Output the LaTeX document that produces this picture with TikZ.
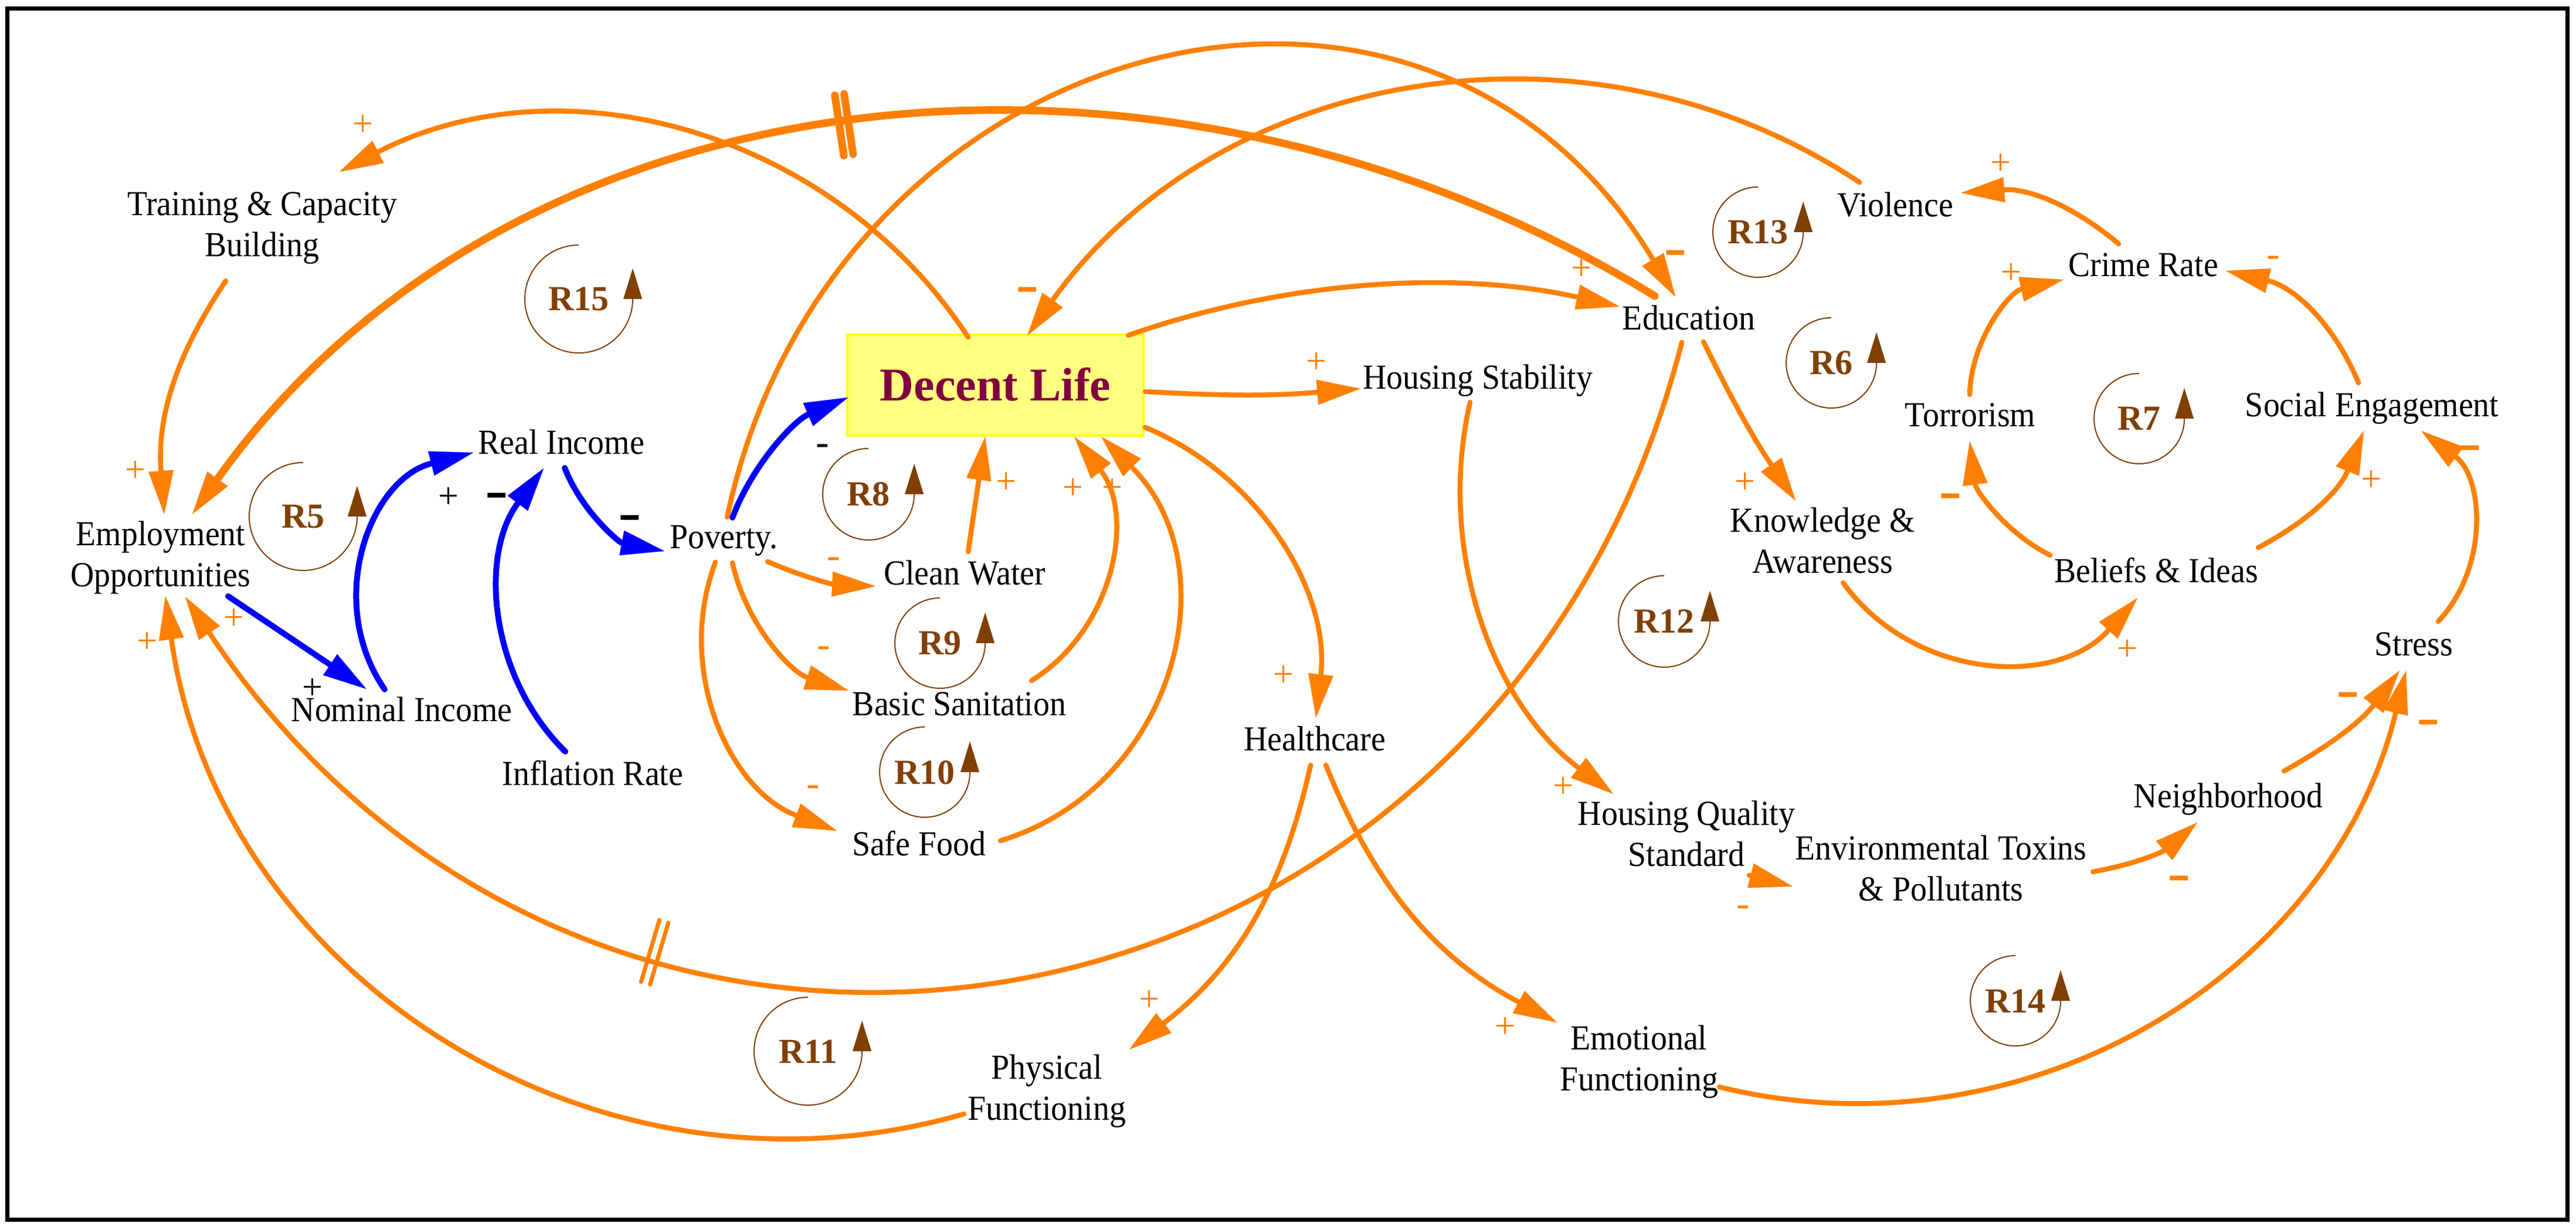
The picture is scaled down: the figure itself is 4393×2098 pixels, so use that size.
\documentclass[tikz,border=0pt]{standalone}
\usepackage{graphicx}
\usepackage{fontspec}
\setmainfont{Liberation Serif}
\newfontfamily\boldserif{Liberation Serif}
\usetikzlibrary{arrows.meta,decorations.markings}
\newdimen\U \U=0.04pt
\newcommand{\fsz}[2]{\fontsize{#1\U}{#2\U}\selectfont}
\newcommand{\nx}[1]{\scalebox{0.93}[1]{#1}}
\definecolor{vorange}{RGB}{255,128,0}
\definecolor{vblue}{RGB}{0,0,255}
\definecolor{vbrown}{RGB}{128,64,0}
\definecolor{vmaroon}{RGB}{128,0,64}
\definecolor{boxfill}{RGB}{255,255,128}
\definecolor{boxline}{RGB}{255,255,0}
\tikzset{
  var/.style={inner sep=0pt,font=\fsz{60}{70},text height=40\U,text depth=0pt},
  vartwo/.style={inner sep=0pt,font=\fsz{60}{70},align=center},
  link/.style={draw=vorange,line width=8.5\U,line cap=round,-{Triangle[length=2.96pt,width=1.72pt,line width=0.004pt]}},
  thicklink/.style={link,line width=13\U},
  bluelink/.style={link,draw=vblue,line width=10\U},
  loopname/.style={inner sep=0pt,font=\boldserif\bfseries\fsz{60}{60},text=vbrown,text height=40\U,text depth=0pt},
  loopcirc/.style={draw=vbrown,line width=2\U,-{Triangle[length=2.08pt,width=1.28pt,line width=0.004pt]}},
  plussign/.style={inner sep=0pt,font=\fsz{62}{62},text=vorange},
  blackplus/.style={plussign,text=black},
  minussmall/.style={inner sep=0pt,font=\fsz{68}{68},text=vorange,yshift=-6.6\U},
  blackminussmall/.style={minussmall,text=black},
  minusbold/.style={inner sep=0pt,font=\boldserif\bfseries\fsz{95}{95},text=vorange,yshift=-8.1\U},
  blackminusbold/.style={minusbold,text=black},
}
\newcommand{\bdash}{\scalebox{1.25}[1]{-}}
\newcommand{\topstrut}{\rule{0pt}{41\U}}
\newcommand{\botstrut}{\rule[-14\U]{0pt}{14\U}}
\begin{document}
\begin{tikzpicture}[x=0.04pt,y=0.04pt]
\useasboundingbox (0,0) rectangle (4393,-2098);
\draw[line width=7\U] (12,-15) rectangle (4378,-2080);

% ---------- variables ----------
\node[vartwo] (trn) at (447,-389.5) {\nx{\topstrut Training \& Capacity}\\\nx{Building\botstrut}};
\node[vartwo] (emp) at (274,-951.5) {\nx{\topstrut Employment}\\\nx{Opportunities\botstrut}};
\node[var] (real) at (957,-755) {\nx{Real Income}};
\node[var] (pov) at (1234,-916) {\nx{Poverty.}};
\node[draw=boxline,fill=boxfill,line width=4\U,minimum width=505\U,minimum height=172\U,inner sep=0pt,
      font=\boldserif\bfseries\fsz{80}{90},text=vmaroon,text height=53\U,text depth=0pt] (dl) at (1697.5,-657) {Decent Life};
\node[var] (hs) at (2520,-644) {\nx{Housing Stability}};
\node[var] (edu) at (2880,-543) {\nx{Education}};
\node[var] (vio) at (3232,-350) {\nx{Violence}};
\node[var] (crime) at (3655,-452) {\nx{Crime Rate}};
\node[var] (torr) at (3360,-708) {\nx{Torrorism}};
\node[var] (soc) at (4045,-691) {\nx{Social Engagement}};
\node[vartwo] (know) at (3108,-928.5) {\nx{\topstrut Knowledge \&}\\\nx{Awareness\botstrut}};
\node[var] (bel) at (3677,-974) {\nx{Beliefs \& Ideas}};
\node[var] (stress) at (4116,-1099) {\nx{Stress}};
\node[var] (neigh) at (3800,-1357) {\nx{Neighborhood}};
\node[vartwo] (env) at (3310,-1487.5) {\nx{\topstrut Environmental Toxins}\\\nx{\& Pollutants\botstrut}};
\node[vartwo] (hqs) at (2876,-1428.5) {\nx{\topstrut Housing Quality}\\\nx{Standard\botstrut}};
\node[var] (hc) at (2242,-1260) {\nx{Healthcare}};
\node[var] (san) at (1636,-1201) {\nx{Basic Sanitation}};
\node[var] (food) at (1567,-1439) {\nx{Safe Food}};
\node[var] (water) at (1645,-978) {\nx{Clean Water}};
\node[var] (nom) at (685,-1211) {\nx{Nominal Income}};
\node[var] (infl) at (1011,-1320) {\nx{Inflation Rate}};
\node[vartwo] (phys) at (1785,-1861.5) {\nx{\topstrut Physical}\\\nx{Functioning\botstrut}};
\node[vartwo] (emo) at (2795,-1811.5) {\nx{\topstrut Emotional}\\\nx{Functioning\botstrut}};

% ---------- loops ----------
\draw[loopcirc] (987,-418) arc[start angle=90,end angle=360,radius=92] -- ++(0,52);
\node[loopname] (r15) at (987,-510) {R15};
\draw[loopcirc] (517,-789) arc[start angle=90,end angle=360,radius=92] -- ++(0,52);
\node[loopname] (r5) at (517,-881) {R5};
\draw[loopcirc] (1378,-1701) arc[start angle=90,end angle=360,radius=92] -- ++(0,52);
\node[loopname] (r11) at (1378,-1793) {R11};
\draw[loopcirc] (1481,-765) arc[start angle=90,end angle=360,radius=78] -- ++(0,52);
\node[loopname] (r8) at (1481,-843) {R8};
\draw[loopcirc] (1603,-1020) arc[start angle=90,end angle=360,radius=77] -- ++(0,52);
\node[loopname] (r9) at (1603,-1097) {R9};
\draw[loopcirc] (1577,-1240) arc[start angle=90,end angle=360,radius=77] -- ++(0,52);
\node[loopname] (r10) at (1577,-1317) {R10};
\draw[loopcirc] (2838,-982) arc[start angle=90,end angle=360,radius=78] -- ++(0,52);
\node[loopname] (r12) at (2838,-1060) {R12};
\draw[loopcirc] (2998,-319) arc[start angle=90,end angle=360,radius=77] -- ++(0,52);
\node[loopname] (r13) at (2998,-396) {R13};
\draw[loopcirc] (3123,-542) arc[start angle=90,end angle=360,radius=77] -- ++(0,52);
\node[loopname] (r6) at (3123,-619) {R6};
\draw[loopcirc] (3648,-637) arc[start angle=90,end angle=360,radius=77] -- ++(0,52);
\node[loopname] (r7) at (3648,-714) {R7};
\draw[loopcirc] (3437,-1630) arc[start angle=90,end angle=360,radius=77] -- ++(0,52);
\node[loopname] (r14) at (3437,-1707) {R14};

% ---------- links ----------
\draw[link] ([shift={(-46.5,82)}]dl.center) to[bend right=42,looseness=0.98] ([shift={(132,96.5)}]trn.center);
\draw[thicklink,postaction={decorate},decoration={markings,mark=at position 0.52 with {\draw[-,draw=vorange,line width=13\U,line cap=round] (-8,-52) -- (-8,52) (8,-52) -- (8,52);}}]
  ([shift={(-58,38)}]edu.center) to[relative,out=-40,in=-134,looseness=0.98] ([shift={(54,74.5)}]emp.center);
\draw[link] ([shift={(226.5,85)}]dl.center) to[bend left=16,looseness=0.87] ([shift={(-118,20)}]edu.center);
\draw[link] ([shift={(-61,39)}]vio.center) to[bend right=44,looseness=0.99] ([shift={(54.5,85)}]dl.center);
\draw[link] ([shift={(6,34)}]pov.center) to[relative,out=65,in=108,looseness=1.3] ([shift={(-23,37)}]edu.center);
\draw[link] ([shift={(255.5,-11)}]dl.center) to[bend right=4] ([shift={(-200,-19)}]hs.center);
\draw[link] ([shift={(255.5,-72)}]dl.center) to[bend left=37,looseness=0.95] ([shift={(2,36)}]hc.center);
\draw[link] ([shift={(6,37)}]water.center) -- ([shift={(-17.5,-88)}]dl.center);
\draw[link] ([shift={(123,40)}]san.center) to[bend right=48,looseness=1.02] ([shift={(134.5,-88)}]dl.center);
\draw[link] ([shift={(139,5)}]food.center) to[bend right=59,looseness=1.13] ([shift={(180.5,-88)}]dl.center);
\draw[bluelink] ([shift={(15,33)}]pov.center) to[bend left=23,looseness=0.89] ([shift={(-251.5,-21)}]dl.center);
\draw[link] ([shift={(75,-42)}]pov.center) to[bend right=10] ([shift={(-152,-22)}]water.center);
\draw[link] ([shift={(15,-44)}]pov.center) to[bend right=30,looseness=0.91] ([shift={(-189,23)}]san.center);
\draw[link] ([shift={(-14,-43)}]pov.center) to[bend right=45] ([shift={(-140,22)}]food.center);
\draw[bluelink] ([shift={(6,-43)}]real.center) to[bend right=29,looseness=0.91] ([shift={(-101,-24)}]pov.center);
\draw[bluelink] ([shift={(-29,35)}]nom.center) to[bend left=55,looseness=1.08] ([shift={(-150,-17)}]real.center);
\draw[bluelink] ([shift={(-47,38)}]infl.center) to[bend left=41,looseness=0.97] ([shift={(-30,-44)}]real.center);
\draw[bluelink] ([shift={(115,-65.5)}]emp.center) -- ([shift={(-60.5,36)}]nom.center);
\draw[link,postaction={decorate},decoration={markings,mark=at position 0.69 with {\draw[-,draw=vorange,line width=7\U,line cap=round] (-8,-55) -- (-8,55) (8,-55) -- (8,55);}}]
  ([shift={(-12,-41)}]edu.center) to[bend left=66,looseness=1.26] ([shift={(42,-66.5)}]emp.center);
\draw[link] ([shift={(-141,-38.5)}]phys.center) to[bend left=49,looseness=1.03] ([shift={(8,-65.5)}]emp.center);
\draw[link] ([shift={(-7,-45)}]hc.center) to[bend left=20] ([shift={(141,71.5)}]phys.center);
\draw[link] ([shift={(19,-45)}]hc.center) to[bend right=20] ([shift={(-140,67.5)}]emo.center);
\draw[link] ([shift={(137,-42.5)}]emo.center) to[bend right=45] ([shift={(-13,-45)}]stress.center);
\draw[link] ([shift={(95,42)}]neigh.center) to[bend right=12] ([shift={(-24,-45)}]stress.center);
\draw[link] ([shift={(259,0.5)}]env.center) to[bend right=15] ([shift={(-53,-46)}]neigh.center);
\draw[link] ([shift={(107,-64.5)}]hqs.center) -- ([shift={(-253,-24.5)}]env.center);
\draw[link] ([shift={(-13,-42)}]hs.center) to[bend right=33,looseness=0.93] ([shift={(-125,74.5)}]hqs.center);
\draw[link] ([shift={(25,-40)}]edu.center) to[bend right=4] ([shift={(-46,74.5)}]know.center);
\draw[link] ([shift={(35,-65.5)}]know.center) to[bend right=51,looseness=1.05] ([shift={(-32,-46)}]bel.center);
\draw[link] ([shift={(-181,27)}]bel.center) to[bend left=28,looseness=0.91] ([shift={(-1,-45)}]torr.center);
\draw[link] ([shift={(174,40)}]bel.center) to[bend right=20] ([shift={(-14,-44)}]soc.center);
\draw[link] ([shift={(-1,35)}]torr.center) to[bend left=38,looseness=0.95] ([shift={(-136,-25)}]crime.center);
\draw[link] ([shift={(-23,38)}]soc.center) to[bend right=27] ([shift={(141,-10)}]crime.center);
\draw[link] ([shift={(-42,36)}]crime.center) to[bend right=22] ([shift={(112,21)}]vio.center);
\draw[link] ([shift={(42,39)}]stress.center) to[bend right=48,looseness=1.02] ([shift={(84,-44)}]soc.center);
\draw[link] ([shift={(-62,-89.5)}]trn.center) to[bend right=19] ([shift={(6,74.5)}]emp.center);

% ---------- polarities ----------
\node[plussign] (s1) at (619,-214) {+};
\node[plussign] (s2) at (231,-804) {+};
\node[plussign] (s3) at (399,-1056) {+};
\node[plussign] (s4) at (251,-1096) {+};
\node[plussign] (s5) at (2697,-460) {+};
\node[plussign] (s6) at (2245,-619) {+};
\node[plussign] (s7) at (2189,-1153) {+};
\node[plussign] (s8) at (1716,-824) {+};
\node[plussign] (s9) at (1830,-834) {+};
\node[plussign] (s10) at (1897,-834) {+};
\node[plussign] (s11) at (1960,-1707) {+};
\node[plussign] (s12) at (2567,-1753) {+};
\node[plussign] (s13) at (2666,-1343) {+};
\node[plussign] (s14) at (2976,-824) {+};
\node[plussign] (s15) at (3628,-1109) {+};
\node[plussign] (s16) at (4044,-820) {+};
\node[plussign] (s17) at (3430,-467) {+};
\node[plussign] (s18) at (3412,-280) {+};
\node[blackplus] (s19) at (765,-849) {+};
\node[blackplus] (s20) at (533,-1175) {+};
\node[blackminusbold] (s21) at (847,-846) {\bdash};
\node[blackminusbold] (s22) at (1074,-884) {\bdash};
\node[blackminussmall] (s23) at (1403,-761) {-};
\node[minussmall] (s24) at (1422,-954) {-};
\node[minussmall] (s25) at (1405,-1106) {-};
\node[minussmall] (s26) at (1387,-1343) {-};
\node[minussmall] (s27) at (3877,-440) {-};
\node[minussmall] (s28) at (2973,-1548) {-};
\node[minusbold] (s29) at (1752,-495) {\bdash};
\node[minusbold] (s30) at (2857,-432) {\bdash};
\node[minusbold] (s31) at (3326,-847) {\bdash};
\node[minusbold] (s32) at (4212,-765) {\bdash};
\node[minusbold] (s33) at (4004,-1186) {\bdash};
\node[minusbold] (s34) at (4141,-1233) {\bdash};
\node[minusbold] (s35) at (3716,-1499) {\bdash};
\end{tikzpicture}
\end{document}
